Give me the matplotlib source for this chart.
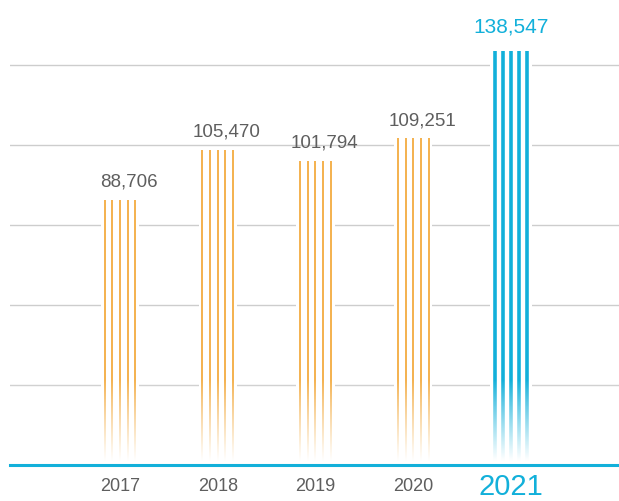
import matplotlib
matplotlib.use('Agg')
import matplotlib.pyplot as plt
import numpy as np

plt.rcParams['font.family'] = ['Liberation Sans', 'DejaVu Sans']

# Data
years = ['2017', '2018', '2019', '2020', '2021']
values = [88706, 105470, 101794, 109251, 138547]
labels = ['88,706', '105,470', '101,794', '109,251', '138,547']
highlight = 4  # index of the emphasised year

orange = '#f3ab40'
blue = '#12b0da'
grey_text = '#5e5e5e'

fig = plt.figure(figsize=(6.19, 5.01), dpi=100)
# axes spans from the left gridline start to the right edge, baseline at bottom
ax = fig.add_axes([10 / 619, 36 / 501, 609 / 619, 465 / 501])

x = np.arange(len(years))
y_top = 465 * 334.5
x_left, x_right = -1.125, 5.105

# horizontal gridlines
grid_step = 26760
for k in range(1, 6):
    ax.axhline(k * grid_step, color='#cdcdcd', lw=1.0, zorder=1)

# white masks behind each bar group so gridlines break around them
mask_w = [0.39, 0.39, 0.39, 0.39, 0.42]
ax.bar(x, values, width=mask_w, color='white', zorder=2, linewidth=0)

# five thin lines per year
offsets = np.array([-2, -1, 0, 1, 2])
for i, v in enumerate(values):
    if i == highlight:
        ax.vlines(x[i] + offsets * 0.081, 0, v, color=blue, lw=2.6, zorder=3)
    else:
        ax.vlines(x[i] + offsets * 0.0785, 0, v, color=orange, lw=1.3, zorder=3)

# fade the bottom of the lines out with a white gradient
fade_top = 85 * 334.5
fade_bot = 5 * 334.5
n = 200
ys = np.linspace(0, fade_top, n)
alpha = np.clip((fade_top - ys) / (fade_top - fade_bot), 0, 1) ** 0.9
grad = np.ones((n, 2, 4))
grad[:, :, 3] = alpha[:, None]
ax.imshow(grad, extent=[x_left, x_right, 0, fade_top], origin='lower',
          aspect='auto', zorder=4, interpolation='bilinear')

# baseline
ax.axhline(0, color=blue, lw=2.2, zorder=5, clip_on=False)

# value labels and year labels
for i, v in enumerate(values):
    if i == highlight:
        ax.annotate(labels[i], xy=(x[i], v), xytext=(0, 13),
                    textcoords='offset points', ha='center', va='baseline',
                    fontsize=15, color=blue)
        ax.annotate(years[i], xy=(x[i], 0), xytext=(0, -21.6),
                    textcoords='offset points', ha='center', va='baseline',
                    fontsize=21, color=blue, annotation_clip=False)
    else:
        ax.annotate(labels[i], xy=(x[i], v), xytext=(6.5, 9.4),
                    textcoords='offset points', ha='center', va='baseline',
                    fontsize=13.5, color=grey_text)
        ax.annotate(years[i], xy=(x[i], 0), xytext=(0, -18.7),
                    textcoords='offset points', ha='center', va='baseline',
                    fontsize=13, color=grey_text, annotation_clip=False)

ax.set_xlim(x_left, x_right)
ax.set_ylim(0, y_top)
ax.axis('off')

fig.savefig('out.png', dpi=100)
